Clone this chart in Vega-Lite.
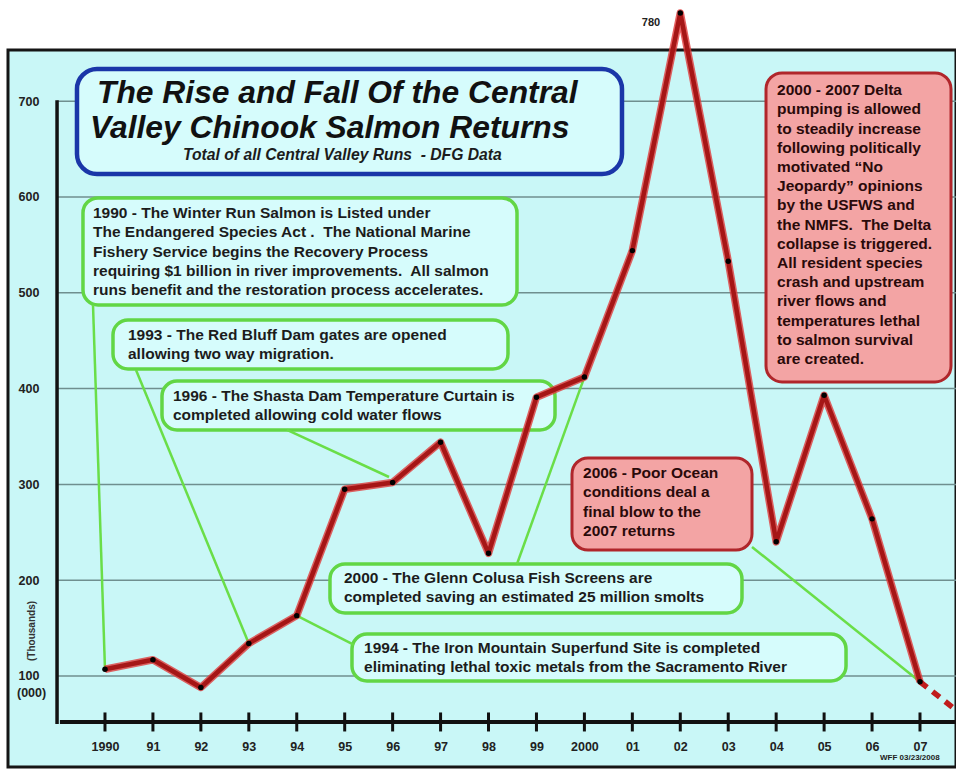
{
  "$schema": "https://vega.github.io/schema/vega-lite/v6.json",
  "width": 948,
  "height": 717,
  "autosize": {"type": "none"},
  "padding": {"left": 8, "top": 50, "right": 0, "bottom": 2},
  "background": "#ffffff",
  "view": {"fill": "#c9f7f7", "stroke": "#151515", "strokeWidth": 3},
  "config": {
    "font": "Liberation Sans",
    "axisX": {"offset": -45, "domain": false, "ticks": false, "tickSize": 0, "grid": false, "labelPadding": 18, "labelFontWeight": "bold", "labelFontSize": 12.5, "labelColor": "#222222", "labelOverlap": false, "labelFlush": false, "zindex": 1},
    "axisY": {"offset": -49, "domain": false, "ticks": false, "tickSize": 0, "grid": false, "labelAlign": "left", "labelBaseline": "middle", "labelPadding": 39, "labelFontWeight": "bold", "labelFontSize": 12.5, "labelColor": "#222222", "zindex": 1}
  },
  "datasets": {
    "salmon": [
      {"year": 1990, "returns": 107},
      {"year": 1991, "returns": 117},
      {"year": 1992, "returns": 88},
      {"year": 1993, "returns": 134},
      {"year": 1994, "returns": 163},
      {"year": 1995, "returns": 295},
      {"year": 1996, "returns": 302},
      {"year": 1997, "returns": 344},
      {"year": 1998, "returns": 228},
      {"year": 1999, "returns": 391},
      {"year": 2000, "returns": 412},
      {"year": 2001, "returns": 544},
      {"year": 2002, "returns": 792},
      {"year": 2003, "returns": 533},
      {"year": 2004, "returns": 240},
      {"year": 2005, "returns": 393},
      {"year": 2006, "returns": 264},
      {"year": 2007, "returns": 94}
    ],
    "projection": [
      {"year": 2007, "returns": 94},
      {"year": 2007.751, "returns": 64.5}
    ],
    "grid": [{"v": 100}, {"v": 200}, {"v": 300}, {"v": 400}, {"v": 500}, {"v": 600}, {"v": 700}],
    "boxes": [
      {"kind": "title", "x1": 1989.416, "x2": 2000.784, "y1": 733.6, "y2": 624.0},
      {"kind": "green", "x1": 1989.541, "x2": 1998.594, "y1": 599.0, "y2": 487.3},
      {"kind": "green", "x1": 1990.167, "x2": 1998.406, "y1": 471.6, "y2": 420.5},
      {"kind": "green", "x1": 1991.189, "x2": 1999.387, "y1": 407.9, "y2": 356.8},
      {"kind": "green", "x1": 1994.693, "x2": 2003.287, "y1": 216.9, "y2": 165.8},
      {"kind": "green", "x1": 1995.152, "x2": 2005.457, "y1": 143.8, "y2": 94.8},
      {"kind": "red", "x1": 1999.741, "x2": 2003.496, "y1": 327.6, "y2": 231.5},
      {"kind": "red", "x1": 2003.788, "x2": 2007.647, "y1": 729.4, "y2": 406.9}
    ],
    "leaders": [
      {"x1": 1989.750, "y1": 487.3, "x2": 1990, "y2": 107},
      {"x1": 1990.647, "y1": 419.4, "x2": 1993, "y2": 134},
      {"x1": 1993.796, "y1": 356.8, "x2": 1995.924, "y2": 307.7},
      {"x1": 1998.594, "y1": 216.9, "x2": 2000, "y2": 412},
      {"x1": 1995.194, "y1": 132.4, "x2": 1994, "y2": 163},
      {"x1": 2003.496, "y1": 234.7, "x2": 2007, "y2": 94}
    ],
    "notes": [
      {"kind": "green", "x": 1989.75, "y": 590.3, "lines": ["\u00a01990 - The Winter Run Salmon is Listed under", "The Endangered Species Act .\u00a0 The National Marine", "Fishery Service begins the Recovery Process", "requiring $1 billion in river improvements.\u00a0 All salmon", "runs benefit and the restoration process accelerates."]},
      {"kind": "green", "x": 1990.48, "y": 462.9, "lines": ["\u00a01993 - The Red Bluff Dam gates are opened", "allowing two way migration."]},
      {"kind": "green", "x": 1991.418, "y": 399.3, "lines": ["\u00a01996 - The Shasta Dam Temperature Curtain is", "completed allowing cold water flows"]},
      {"kind": "green", "x": 1994.985, "y": 209.3, "lines": ["\u00a02000 - The Glenn Colusa Fish Screens are", "completed saving an estimated 25 million smolts"]},
      {"kind": "green", "x": 1995.403, "y": 136.2, "lines": ["\u00a01994 - The Iron Mountain Superfund Site is completed", "eliminating lethal toxic metals from the Sacramento River"]},
      {"kind": "red", "x": 1999.971, "y": 318.9, "lines": ["\u00a02006 - Poor Ocean", "conditions deal a", "final blow to the", "2007 returns"]},
      {"kind": "red", "x": 2004.018, "y": 718.7, "lines": ["\u00a02000 - 2007 Delta", "pumping is allowed", "to steadily increase", "following politically", "motivated \u201cNo", "Jeopardy\u201d opinions", "by the USFWS and", "the NMFS.\u00a0 The Delta", "collapse is triggered.", "All resident species", "crash and upstream", "river flows and", "temperatures lethal", "to salmon survival", "are created."]}
    ],
    "titles": [
      {"x": 1989.833, "y": 698.1, "text": "The Rise and Fall Of the Central"},
      {"x": 1989.687, "y": 661.1, "text": "Valley Chinook Salmon Returns"}
    ]
  },
  "layer": [
    {
      "data": {"name": "grid"},
      "mark": {"type": "rule", "stroke": "#6f8f8f", "strokeWidth": 1.5},
      "encoding": {
        "y": {"field": "v", "type": "quantitative", "title": null, "scale": {"domain": [5.0, 753.4], "nice": false, "zero": false}},
        "x": {"datum": 1989.0, "type": "quantitative", "title": null, "scale": {"domain": [1987.977, 2007.751], "nice": false, "zero": false}},
        "x2": {"datum": 2007.751}
      }
    },
    {
      "data": {"values": [{}]},
      "mark": {"type": "rule", "stroke": "#111111", "strokeWidth": 3.5},
      "encoding": {
        "x": {"datum": 1989.0, "type": "quantitative", "title": null},
        "y": {"datum": 50, "type": "quantitative", "title": null},
        "y2": {"datum": 701}
      }
    },
    {
      "data": {"values": [{}]},
      "mark": {"type": "rule", "stroke": "#111111", "strokeWidth": 4},
      "encoding": {
        "y": {"datum": 52, "type": "quantitative", "title": null},
        "x": {"datum": 1989.06, "type": "quantitative", "title": null},
        "x2": {"datum": 2007.751}
      }
    },
    {
      "data": {"name": "salmon"},
      "mark": {"type": "tick", "orient": "vertical", "size": 19, "thickness": 3, "color": "#111111", "opacity": 1},
      "encoding": {
        "x": {"field": "year", "type": "quantitative", "title": null},
        "y": {"datum": 52, "type": "quantitative", "title": null}
      }
    },
    {
      "data": {"name": "boxes"},
      "transform": [{"filter": "datum.kind == 'title'"}],
      "mark": {"type": "rect", "fill": "#d6fcfc", "stroke": "#1a36a8", "strokeWidth": 4.5, "cornerRadius": 20},
      "encoding": {
        "x": {"field": "x1", "type": "quantitative", "title": null},
        "x2": {"field": "x2"},
        "y": {"field": "y1", "type": "quantitative", "title": null},
        "y2": {"field": "y2"}
      }
    },
    {
      "data": {"name": "boxes"},
      "transform": [{"filter": "datum.kind == 'green'"}],
      "mark": {"type": "rect", "fill": "#d6fcfc", "stroke": "#62d645", "strokeWidth": 3.5, "cornerRadius": 15},
      "encoding": {
        "x": {"field": "x1", "type": "quantitative", "title": null},
        "x2": {"field": "x2"},
        "y": {"field": "y1", "type": "quantitative", "title": null},
        "y2": {"field": "y2"}
      }
    },
    {
      "data": {"name": "boxes"},
      "transform": [{"filter": "datum.kind == 'red'"}],
      "mark": {"type": "rect", "fill": "#f3a4a4", "stroke": "#b0262b", "strokeWidth": 3, "cornerRadius": 16},
      "encoding": {
        "x": {"field": "x1", "type": "quantitative", "title": null},
        "x2": {"field": "x2"},
        "y": {"field": "y1", "type": "quantitative", "title": null},
        "y2": {"field": "y2"}
      }
    },
    {
      "data": {"name": "leaders"},
      "mark": {"type": "rule", "stroke": "#6ade48", "strokeWidth": 2.5},
      "encoding": {
        "x": {"field": "x1", "type": "quantitative", "title": null},
        "y": {"field": "y1", "type": "quantitative", "title": null},
        "x2": {"field": "x2"},
        "y2": {"field": "y2"}
      }
    },
    {
      "data": {"name": "salmon"},
      "mark": {"type": "line", "stroke": "#e03a3a", "strokeWidth": 7.5, "strokeJoin": "round", "opacity": 0.8},
      "encoding": {
        "x": {"field": "year", "type": "quantitative", "title": null},
        "y": {"field": "returns", "type": "quantitative", "title": null}
      }
    },
    {
      "data": {"name": "salmon"},
      "mark": {"type": "line", "stroke": "#a51616", "strokeWidth": 4.5, "strokeJoin": "round"},
      "encoding": {
        "x": {"field": "year", "type": "quantitative", "title": null,
          "axis": {"values": [1990, 1991, 1992, 1993, 1994, 1995, 1996, 1997, 1998, 1999, 2000, 2001, 2002, 2003, 2004, 2005, 2006, 2007], "labelExpr": "datum.value == 1990 || datum.value == 2000 ? format(datum.value, 'd') : format(datum.value % 100, '02d')", "offset": -45, "domain": false, "ticks": false, "tickSize": 0, "grid": false, "labelPadding": 18, "labelFont": "Liberation Sans", "labelFontWeight": "bold", "labelFontSize": 12.5, "labelColor": "#222222", "labelOverlap": false, "labelFlush": false, "title": null, "zindex": 1}},
        "y": {"field": "returns", "type": "quantitative", "title": null,
          "axis": {"values": [100, 200, 300, 400, 500, 600, 700], "offset": -49, "domain": false, "ticks": false, "tickSize": 0, "grid": false, "labelAlign": "left", "labelBaseline": "middle", "labelPadding": 39, "labelFont": "Liberation Sans", "labelFontWeight": "bold", "labelFontSize": 12.5, "labelColor": "#222222", "title": null, "zindex": 1}}
      }
    },
    {
      "data": {"name": "projection"},
      "mark": {"type": "line", "stroke": "#c01c1c", "strokeWidth": 5.5, "strokeDash": [9, 7]},
      "encoding": {
        "x": {"field": "year", "type": "quantitative", "title": null},
        "y": {"field": "returns", "type": "quantitative", "title": null}
      }
    },
    {
      "data": {"name": "salmon"},
      "mark": {"type": "circle", "color": "#000000", "size": 30, "opacity": 1},
      "encoding": {
        "x": {"field": "year", "type": "quantitative", "title": null},
        "y": {"field": "returns", "type": "quantitative", "title": null}
      }
    },
    {
      "data": {"name": "notes"},
      "mark": {"type": "text", "align": "left", "baseline": "top", "fontSize": 15.5, "fontWeight": "bold", "lineHeight": 19.2},
      "encoding": {
        "x": {"field": "x", "type": "quantitative", "title": null},
        "y": {"field": "y", "type": "quantitative", "title": null},
        "text": {"field": "lines", "type": "nominal"},
        "color": {"field": "kind", "type": "nominal", "scale": {"domain": ["green", "red"], "range": ["#1c1c1c", "#2a0a0a"]}, "legend": null}
      }
    },
    {
      "data": {"name": "titles"},
      "mark": {"type": "text", "align": "left", "baseline": "alphabetic", "fontSize": 31.8, "fontWeight": "bold", "fontStyle": "italic", "color": "#111111"},
      "encoding": {
        "x": {"field": "x", "type": "quantitative", "title": null},
        "y": {"field": "y", "type": "quantitative", "title": null},
        "text": {"field": "text", "type": "nominal"}
      }
    },
    {
      "data": {"values": [{"x": 1991.627, "y": 639.1, "text": "Total of all Central Valley Runs\u00a0 - DFG Data"}]},
      "mark": {"type": "text", "align": "left", "baseline": "alphabetic", "fontSize": 15.7, "fontWeight": "bold", "fontStyle": "italic", "color": "#1c1c1c"},
      "encoding": {
        "x": {"field": "x", "type": "quantitative", "title": null},
        "y": {"field": "y", "type": "quantitative", "title": null},
        "text": {"field": "text", "type": "nominal"}
      }
    },
    {
      "data": {"values": [{"x": 2001.389, "y": 778.0, "text": "780"}]},
      "mark": {"type": "text", "align": "center", "baseline": "alphabetic", "fontSize": 11, "fontWeight": "bold", "color": "#222222"},
      "encoding": {
        "x": {"field": "x", "type": "quantitative", "title": null},
        "y": {"field": "y", "type": "quantitative", "title": null},
        "text": {"field": "text", "type": "nominal"}
      }
    },
    {
      "data": {"values": [{"x": 1988.164, "y": 77.6, "text": "(000)"}]},
      "mark": {"type": "text", "align": "left", "baseline": "alphabetic", "fontSize": 12.5, "fontWeight": "bold", "color": "#222222"},
      "encoding": {
        "x": {"field": "x", "type": "quantitative", "title": null},
        "y": {"field": "y", "type": "quantitative", "title": null},
        "text": {"field": "text", "type": "nominal"}
      }
    },
    {
      "data": {"values": [{"x": 1988.477, "y": 147.0, "text": "(Thousands)"}]},
      "mark": {"type": "text", "align": "center", "baseline": "middle", "angle": 270, "fontSize": 10, "fontWeight": "bold", "color": "#333333"},
      "encoding": {
        "x": {"field": "x", "type": "quantitative", "title": null},
        "y": {"field": "y", "type": "quantitative", "title": null},
        "text": {"field": "text", "type": "nominal"}
      }
    },
    {
      "data": {"values": [{"x": 2006.166, "y": 11.8, "text": "WFF 03/23/2008"}]},
      "mark": {"type": "text", "align": "left", "baseline": "alphabetic", "fontSize": 8, "fontWeight": "bold", "color": "#222222"},
      "encoding": {
        "x": {"field": "x", "type": "quantitative", "title": null},
        "y": {"field": "y", "type": "quantitative", "title": null},
        "text": {"field": "text", "type": "nominal"}
      }
    }
  ]
}
